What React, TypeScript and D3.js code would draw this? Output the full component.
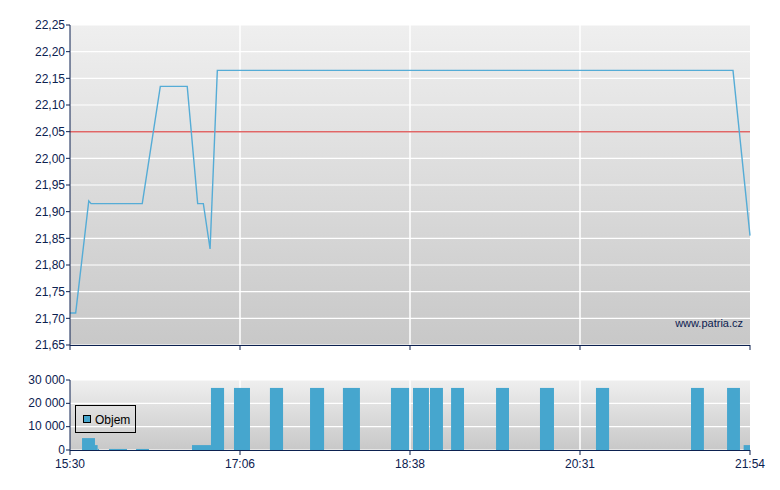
import React from "react";
import * as d3 from "d3";

// Time axis: minutes since 15:30 at the labelled ticks (ticks evenly spaced on screen)
const tickMinutes = [0, 96, 188, 301, 384];
const tickLabels = ["15:30", "17:06", "18:38", "20:31", "21:54"];

// Price series (minutes since 15:30, price)
const priceTimes = [0, 3.2, 10.6, 11.9, 40.8, 51.0, 66.2, 72.1, 75.3, 79.1, 83.2, 375.7, 384];
const priceValues = [21.71, 21.71, 21.92, 21.915, 21.915, 22.135, 22.135, 21.915, 21.915, 21.83, 22.165, 22.165, 21.855];
const referencePrice = 22.05;
const priceTicks = [21.65, 21.7, 21.75, 21.8, 21.85, 21.9, 21.95, 22.0, 22.05, 22.1, 22.15, 22.2, 22.25];

// Volume bars (start minute, end minute, volume)
const volStart = [6.8, 14.1, 15.6, 22.0, 37.3, 68.9, 79.6, 92.6, 112.2, 133.9, 151.7, 177.7, 190.0, 201.3, 215.3, 245.2, 274.4, 308.8, 355.2, 372.8, 380.9];
const volEnd = [14.1, 15.6, 16.4, 32.2, 44.6, 79.6, 87.0, 101.4, 119.3, 141.5, 160.9, 187.5, 200.6, 209.9, 223.9, 253.8, 283.7, 315.2, 361.5, 379.1, 384];
const volValue = [5100, 2100, 450, 450, 450, 2100, 26600, 26600, 26600, 26600, 26600, 26600, 26600, 26600, 26600, 26600, 26600, 26600, 26600, 26600, 2100];
const volTicks = [0, 10000, 20000, 30000];

const AXIS = "#0c2150";
const FONT = "Arial, 'Liberation Sans', sans-serif";

export default function App() {
  const left = 70;
  const right = 750;
  const x = d3
    .scaleLinear()
    .domain(tickMinutes)
    .range(tickMinutes.map((_, i) => left + (i * (right - left)) / (tickMinutes.length - 1)));

  const yP = d3.scaleLinear().domain([21.65, 22.25]).range([345, 25]);
  const yV = d3.scaleLinear().domain([0, 30000]).range([450, 380]);

  const line = d3
    .line<number>()
    .x((_, i) => x(priceTimes[i]))
    .y((d) => yP(d));

  const fmtP = (v: number) => d3.format(".2f")(v).replace(".", ",");
  const fmtV = (v: number) => d3.format(",")(v).replace(/,/g, " ");

  return (
    <svg
      width={780}
      height={490}
      style={{ position: "absolute", left: 0, top: 0, background: "#fff" }}
      fontFamily={FONT}
    >
      <defs>
        <linearGradient id="bgMain" x1="0" y1="0" x2="0" y2="1">
          <stop offset="0" stopColor="#efefef" />
          <stop offset="1" stopColor="#c8c8c8" />
        </linearGradient>
        <linearGradient id="bgVol" x1="0" y1="0" x2="0" y2="1">
          <stop offset="0" stopColor="#efefef" />
          <stop offset="1" stopColor="#c8c8c8" />
        </linearGradient>
      </defs>

      {/* Main panel */}
      <rect x={left} y={yP(22.25)} width={right - left} height={yP(21.65) - yP(22.25)} fill="url(#bgMain)" />
      {priceTicks.map((t) => (
        <line key={"gp" + t} x1={left} x2={right} y1={yP(t)} y2={yP(t)} stroke="#fff" strokeWidth={1.2} />
      ))}
      {tickMinutes.slice(1, -1).map((t) => (
        <line key={"gvx" + t} x1={x(t)} x2={x(t)} y1={yP(22.25)} y2={yP(21.65)} stroke="#fff" strokeWidth={1.5} />
      ))}
      <line x1={left} x2={right} y1={yP(referencePrice)} y2={yP(referencePrice)} stroke="#e06666" strokeWidth={1.5} />
      <path d={line(priceValues) || ""} fill="none" stroke="#55acd6" strokeWidth={1.4} />
      <text x={743} y={327} textAnchor="end" fontSize={11} fill={AXIS}>
        www.patria.cz
      </text>
      {/* main axes */}
      <line x1={left} x2={left} y1={yP(22.25)} y2={yP(21.65)} stroke={AXIS} strokeWidth={1} />
      <line x1={left} x2={right} y1={yP(21.65) + 0.5} y2={yP(21.65) + 0.5} stroke={AXIS} strokeWidth={1} />
      {priceTicks.map((t) => (
        <g key={"tp" + t}>
          <line x1={left - 4} x2={left} y1={yP(t)} y2={yP(t)} stroke={AXIS} />
          <text x={65} y={yP(t)} dy="0.35em" textAnchor="end" fontSize={12} fill={AXIS}>
            {fmtP(t)}
          </text>
        </g>
      ))}
      {tickMinutes.map((t) => (
        <line key={"tx" + t} x1={x(t)} x2={x(t)} y1={345} y2={350} stroke={AXIS} />
      ))}

      {/* Volume panel */}
      <rect x={left} y={yV(30000)} width={right - left} height={yV(0) - yV(30000)} fill="url(#bgVol)" />
      {volTicks.map((t) => (
        <line key={"gv" + t} x1={left} x2={right} y1={yV(t)} y2={yV(t)} stroke="#fff" strokeWidth={1.2} />
      ))}
      {tickMinutes.slice(1, -1).map((t) => (
        <line key={"gvx2" + t} x1={x(t)} x2={x(t)} y1={yV(30000)} y2={yV(0)} stroke="#fff" strokeWidth={1.5} />
      ))}
      {volValue.map((v, i) => (
        <rect
          key={"b" + i}
          x={x(volStart[i])}
          y={yV(v)}
          width={x(volEnd[i]) - x(volStart[i])}
          height={yV(0) - yV(v)}
          fill="#46a6ce"
        />
      ))}
      {/* legend */}
      <rect x={75.5} y={405.5} width={60} height={27} fill="none" stroke="#000" strokeWidth={1} />
      <rect x={83.5} y={415.5} width={7} height={7} fill="#46a6ce" stroke="#000" strokeWidth={1} />
      <text x={95} y={423.5} fontSize={12} fill="#000">
        Objem
      </text>
      {/* volume axes */}
      <line x1={left} x2={left} y1={yV(30000)} y2={yV(0)} stroke={AXIS} strokeWidth={1} />
      <line x1={left} x2={right} y1={yV(0) + 0.5} y2={yV(0) + 0.5} stroke={AXIS} strokeWidth={1} />
      {volTicks.map((t) => (
        <g key={"tv" + t}>
          <line x1={left - 4} x2={left} y1={yV(t)} y2={yV(t)} stroke={AXIS} />
          <text x={65} y={yV(t) - 0.5} dy="0.35em" textAnchor="end" fontSize={12} fill={AXIS}>
            {fmtV(t)}
          </text>
        </g>
      ))}
      {tickMinutes.map((t, i) => (
        <g key={"lx" + t}>
          <line x1={x(t)} x2={x(t)} y1={450} y2={455} stroke={AXIS} />
          <text x={x(t)} y={467.5} textAnchor="middle" fontSize={12} fill={AXIS}>
            {tickLabels[i]}
          </text>
        </g>
      ))}
    </svg>
  );
}
